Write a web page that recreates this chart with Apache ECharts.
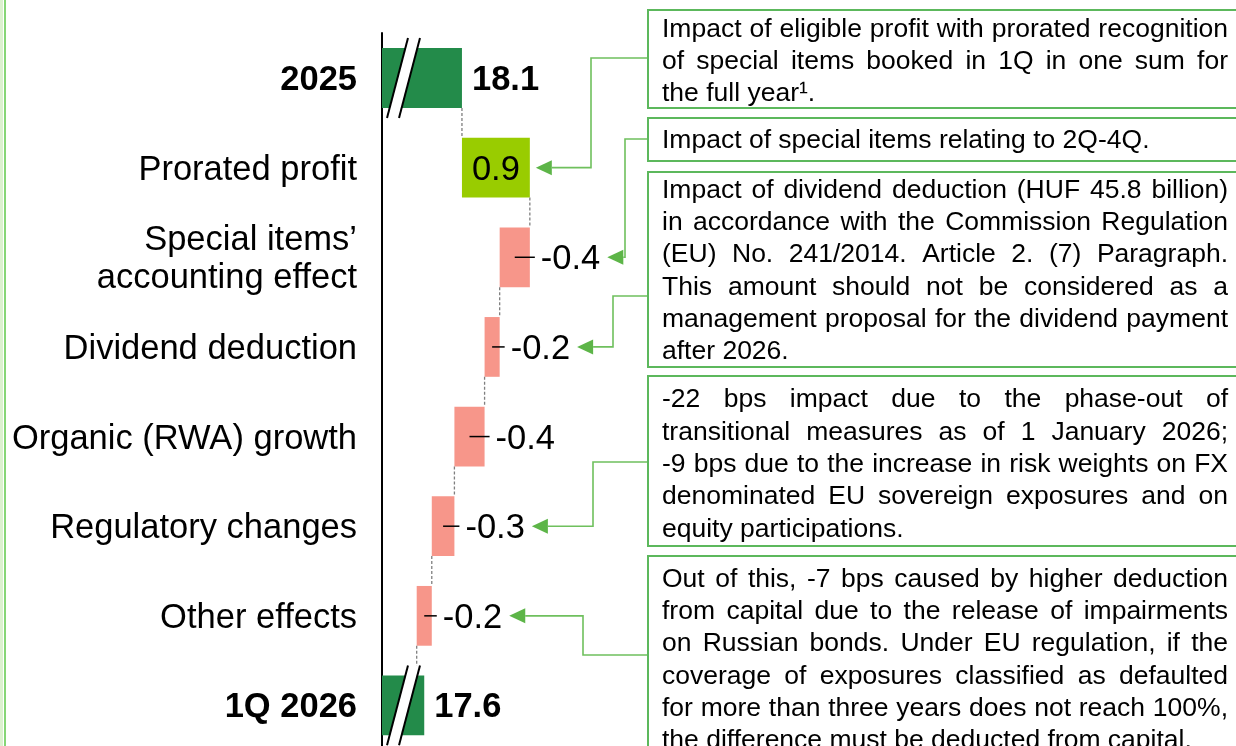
<!DOCTYPE html>
<html>
<head>
<meta charset="utf-8">
<script src="https://cdn.jsdelivr.net/npm/echarts@6/dist/echarts.min.js"></script>
<style>
  html, body { margin: 0; padding: 0; background: #ffffff; }
  #chart { width: 1236px; height: 746px; }
</style>
</head>
<body>
<div id="chart"></div>
<script>
// ---- data ----
const categories = [
  '2025',
  'Prorated profit',
  'Special items\u2019\naccounting effect',
  'Dividend deduction',
  'Organic (RWA) growth',
  'Regulatory changes',
  'Other effects',
  '1Q 2026'
];
const openingValue = 18.1;
const changeValues = [0.9, -0.4, -0.2, -0.4, -0.3, -0.2];
const closingValue = 17.6;

// explanatory notes (one array of text lines per note) and the row each note points to
const noteProfit = [
  'Impact of eligible profit with prorated recognition',
  'of special items booked in 1Q in one sum for',
  'the full year\u00b9.'
];
const noteSpecial = ['Impact of special items relating to 2Q-4Q.'];
const noteDividend = [
  'Impact of dividend deduction (HUF 45.8 billion)',
  'in accordance with the Commission Regulation',
  '(EU) No. 241/2014. Article 2. (7) Paragraph.',
  'This amount should not be considered as a',
  'management proposal for the dividend payment',
  'after 2026.'
];
const noteRegulatory = [
  '-22 bps impact due to the phase-out of',
  'transitional measures as of 1 January 2026;',
  '-9 bps due to the increase in risk weights on FX',
  'denominated EU sovereign exposures and on',
  'equity participations.'
];
const noteOther = [
  'Out of this, -7 bps caused by higher deduction',
  'from capital due to the release of impairments',
  'on Russian bonds. Under EU regulation, if the',
  'coverage of exposures classified as defaulted',
  'for more than three years does not reach 100%,',
  'the difference must be deducted from capital.'
];
const notes = [noteProfit, noteSpecial, noteDividend, noteRegulatory, noteOther];
const noteTargetRows = [1, 2, 3, 5, 6];

// ---- layout / style ----
const FONT = '"Liberation Sans", Arial, Helvetica, sans-serif';
const X_MIN = 17.04, X_MAX = 20.54;
const Y_MIN = -0.502, Y_MAX = 7.452;
const GRID = { left: 382, top: 33, width: 264, bottom: 0 };
const COLORS = ['#238b4a', '#99cc00', '#f7968a'];
const GREEN_LINE = '#6fc05d';
const GREEN_HEAD = '#5db548';
const BOX_STROKE = '#5cb85c';
const LABEL_SIZE = 34.5;
const NOTE_SIZE = 26.5;
const TEXT_DY = 2.5;
const NOTE_LEFT = 648, TEXT_LEFT = 662, TEXT_RIGHT = 1228, LINE_STEP = 32.3;
const noteBoxes = [
  { top: 10,  height: 98,  firstLine: 29.5, attachY: 58,  elbowX: 591 },
  { top: 118, height: 43,  firstLine: 141,  attachY: 139, elbowX: 625 },
  { top: 172, height: 195, firstLine: 190.5, attachY: 296, elbowX: 613 },
  { top: 376, height: 170, firstLine: 400,  attachY: 462, elbowX: 593 },
  { top: 556, height: 210, firstLine: 579.5, attachY: 655, elbowX: 583 }
];

// ---- waterfall rows: [row, from, to, kind, shownValue] ----
const rows = [];
rows.push([0, X_MIN, openingValue, 0, openingValue]);
let running = openingValue;
changeValues.forEach((v, i) => {
  const next = Math.round((running + v) * 1000) / 1000;
  rows.push([i + 1, running, next, v > 0 ? 1 : 2, v]);
  running = next;
});
rows.push([categories.length - 1, X_MIN, closingValue, 0, closingValue]);

const measureCtx = document.createElement('canvas').getContext('2d');
function textWidth(str, size, weight) {
  measureCtx.font = (weight || 'normal') + ' ' + size + 'px ' + FONT;
  return measureCtx.measureText(str).width;
}

function renderItem(params, api) {
  const row = api.value(0), from = api.value(1), to = api.value(2);
  const kind = api.value(3), shown = api.value(4);
  const pitch = Math.abs(api.size([0, 1])[1]);
  const h = pitch * 2 / 3;
  const p0 = api.coord([from, row]);
  const p1 = api.coord([to, row]);
  const axisX = api.coord([X_MIN, row])[0];
  const xL = Math.min(p0[0], p1[0]), xR = Math.max(p0[0], p1[0]);
  const cy = p0[1];
  const ty = cy + TEXT_DY;
  const children = [{
    type: 'rect',
    shape: { x: xL, y: cy - h / 2, width: xR - xL, height: h },
    style: { fill: COLORS[kind] }
  }];
  // category name left of the axis
  children.push({
    type: 'text',
    style: {
      text: categories[row], x: axisX - 25, y: ty,
      fontSize: LABEL_SIZE, fontWeight: kind === 0 ? 'bold' : 'normal', fontFamily: FONT,
      lineHeight: 38, fill: '#000', align: 'right', verticalAlign: 'middle'
    }
  });
  // dashed link down to the next bar
  if (row < categories.length - 1) {
    children.push({
      type: 'line',
      shape: { x1: p1[0], y1: cy + h / 2, x2: p1[0], y2: cy + pitch - h / 2 },
      style: { stroke: '#7f7f7f', lineWidth: 1.3, lineDash: [3, 2] }
    });
  }
  const label = shown.toFixed(1);
  if (kind === 0) {
    // axis break mark on the total bars
    const x0 = xL, top = cy - h / 2 - 10, bot = cy + h / 2 + 10;
    children.push({
      type: 'polygon',
      shape: { points: [[x0 + 5, bot], [x0 + 26, top], [x0 + 38, top], [x0 + 17, bot]] },
      style: { fill: '#ffffff' }
    });
    children.push({ type: 'line', shape: { x1: x0 + 5, y1: bot, x2: x0 + 26, y2: top }, style: { stroke: '#000', lineWidth: 2 } });
    children.push({ type: 'line', shape: { x1: x0 + 17, y1: bot, x2: x0 + 38, y2: top }, style: { stroke: '#000', lineWidth: 2 } });
    children.push({
      type: 'text',
      style: { text: label, x: xR + 10, y: ty, fontSize: LABEL_SIZE, fontWeight: 'bold', fontFamily: FONT, fill: '#000', align: 'left', verticalAlign: 'middle' }
    });
  } else if (kind === 1) {
    children.push({
      type: 'text',
      style: { text: label, x: (xL + xR) / 2, y: ty, fontSize: LABEL_SIZE, fontFamily: FONT, fill: '#000', align: 'center', verticalAlign: 'middle' }
    });
  } else {
    children.push({
      type: 'line',
      shape: { x1: (xL + xR) / 2, y1: cy, x2: xR + 5, y2: cy },
      style: { stroke: '#000', lineWidth: 1.5 }
    });
    children.push({
      type: 'text',
      style: { text: label, x: xR + 11, y: ty, fontSize: LABEL_SIZE, fontFamily: FONT, fill: '#000', align: 'left', verticalAlign: 'middle' }
    });
  }
  return { type: 'group', children: children };
}

const chart = echarts.init(document.getElementById('chart'));
chart.setOption({
  backgroundColor: '#ffffff',
  animation: false,
  grid: GRID,
  xAxis: { type: 'value', min: X_MIN, max: X_MAX, show: false },
  yAxis: {
    type: 'value',
    inverse: true,
    min: Y_MIN,
    max: Y_MAX,
    axisLine: { show: true, onZero: false, lineStyle: { color: '#000', width: 2 } },
    axisTick: { show: false },
    axisLabel: { show: false },
    splitLine: { show: false }
  },
  series: [{
    type: 'custom',
    renderItem: renderItem,
    clip: false,
    encode: { x: [1, 2], y: 0 },
    data: rows
  }]
});

// ---- notes, boxes and arrows ----
function noteElements() {
  const els = [];
  // page edge rule
  els.push({ type: 'rect', shape: { x: 0, y: 0, width: 3, height: 746 }, style: { fill: '#dcf1cf' }, silent: true });
  els.push({ type: 'rect', shape: { x: 4, y: 0, width: 2, height: 746 }, style: { fill: '#86d676' }, silent: true });

  notes.forEach((lines, n) => {
    const box = noteBoxes[n];
    els.push({
      type: 'rect',
      shape: { x: NOTE_LEFT, y: box.top, width: 640, height: box.height },
      style: { fill: '#ffffff', stroke: BOX_STROKE, lineWidth: 2 },
      z: 10
    });
    lines.forEach((line, k) => {
      const y = box.firstLine + k * LINE_STEP;
      const base = { fontSize: NOTE_SIZE, fontFamily: FONT, fill: '#000', verticalAlign: 'middle', align: 'left' };
      if (k === lines.length - 1) {
        els.push({ type: 'text', z: 11, style: Object.assign({ text: line, x: TEXT_LEFT, y: y }, base) });
        return;
      }
      // justified line: spread the words over the full text width
      const words = line.split(' ');
      const widths = words.map(w => textWidth(w, NOTE_SIZE));
      const sum = widths.reduce((a, b) => a + b, 0);
      const gap = (TEXT_RIGHT - TEXT_LEFT - sum) / (words.length - 1);
      let x = TEXT_LEFT;
      words.forEach((w, j) => {
        els.push({ type: 'text', z: 11, style: Object.assign({ text: w, x: x, y: y }, base) });
        x += widths[j] + gap;
      });
    });

    // arrow from the note to its bar label
    const row = rows[noteTargetRows[n]];
    const right = chart.convertToPixel({ gridIndex: 0 }, [Math.max(row[1], row[2]), row[0]]);
    const cy = right[1];
    let tip;
    if (row[3] === 1) tip = right[0] + 6;
    else tip = right[0] + 11 + textWidth(row[4].toFixed(1), LABEL_SIZE) + 7;
    const baseX = tip + 16;
    els.push({
      type: 'polyline',
      shape: { points: [[baseX, cy], [box.elbowX, cy], [box.elbowX, box.attachY], [NOTE_LEFT, box.attachY]] },
      style: { stroke: GREEN_LINE, lineWidth: 1.6, fill: null },
      z: 9
    });
    els.push({
      type: 'polygon',
      shape: { points: [[tip, cy], [baseX, cy - 7.5], [baseX, cy + 7.5]] },
      style: { fill: GREEN_HEAD },
      z: 9
    });
  });
  return els;
}

chart.setOption({ graphic: noteElements() });
</script>
</body>
</html>
